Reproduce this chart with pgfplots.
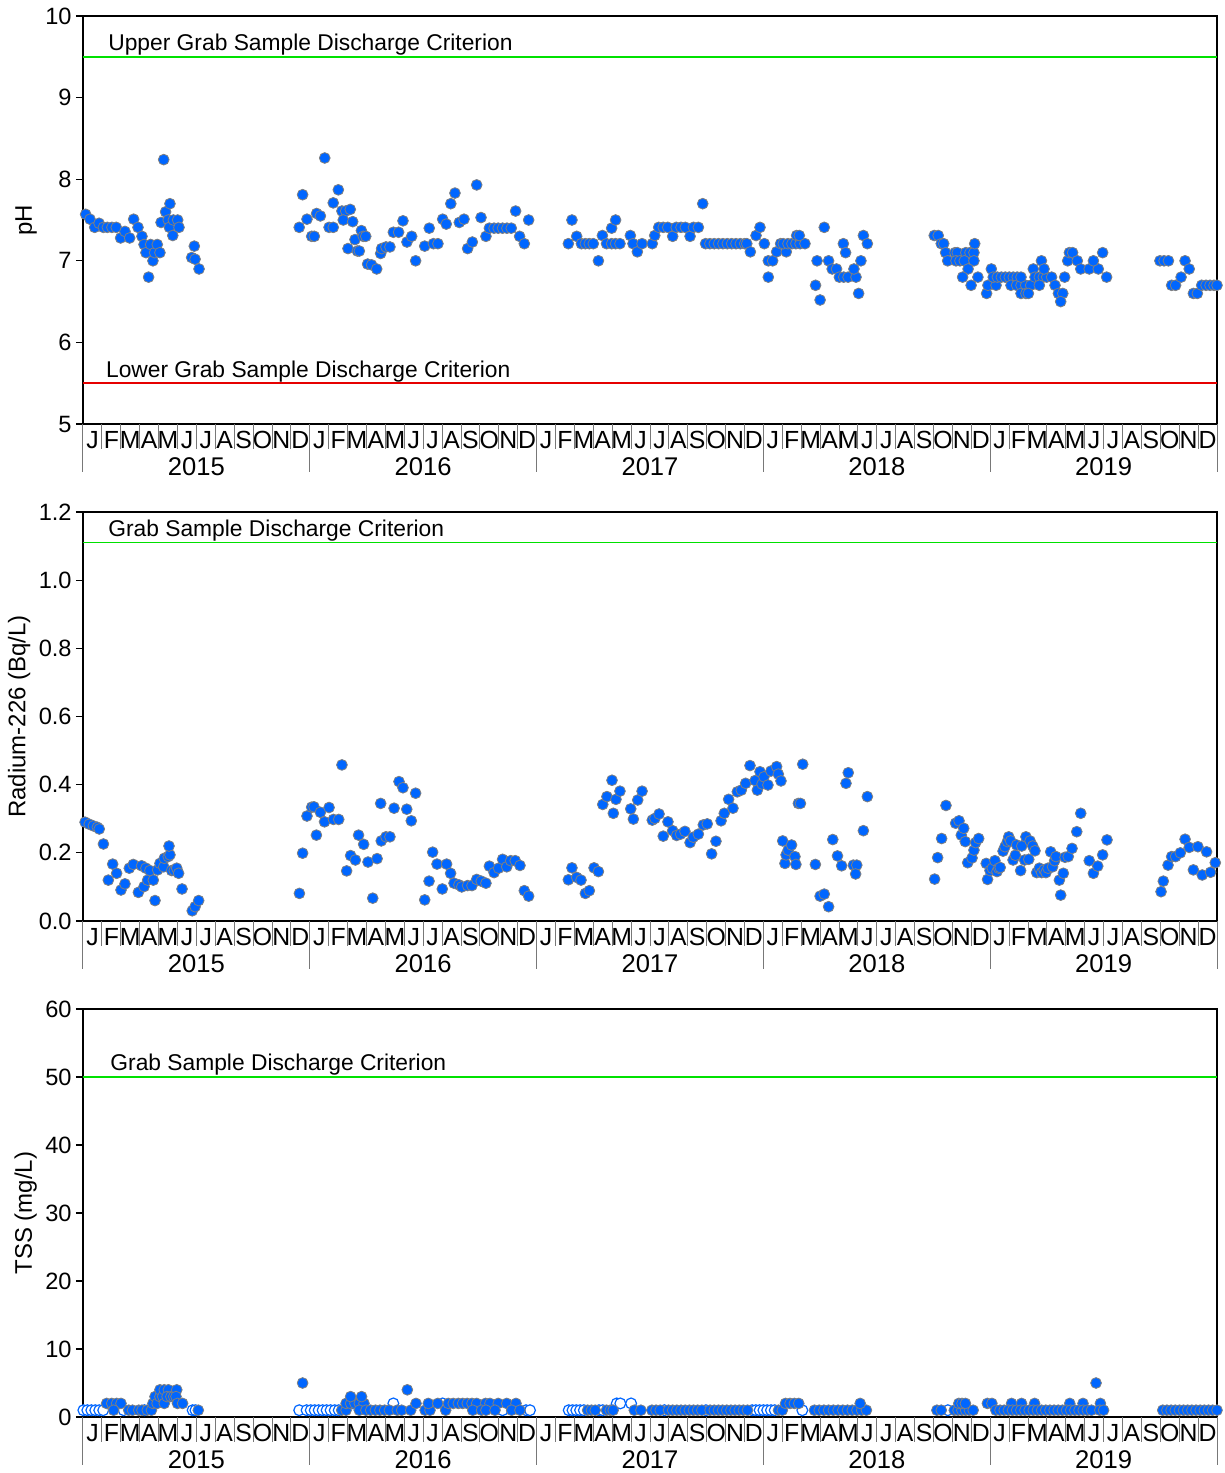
\documentclass[border=0pt]{standalone}
\usepackage{pgfplots}
\pgfplotsset{compat=1.18}
\usepackage{fontspec}
\setmainfont{Liberation Sans}

\definecolor{dotblue}{RGB}{0,102,255}
\definecolor{critgreen}{RGB}{0,225,0}
\definecolor{critred}{RGB}{230,0,0}
\definecolor{sepgray}{RGB}{120,120,120}

\newcommand\tickfont{\fontsize{11.8}{13}\selectfont}
\newcommand\monthfont{\fontsize{12.4}{14}\selectfont}
\newcommand\yearfont{\fontsize{12.8}{14}\selectfont}
\newcommand\labfont{\fontsize{11.4}{13}\selectfont}

% month separators, year separators and year names under a panel (#1 = ymin)
\newcommand\monthaxis[1]{%
  \pgfplotsinvokeforeach{0,...,60}{\draw[sepgray,line width=0.5pt] (axis cs:##1,#1) -- ++(0pt,-12.5pt);}%
  \pgfplotsinvokeforeach{0,12,24,36,48,60}{\draw[sepgray,line width=0.5pt] (axis cs:##1,#1) -- ++(0pt,-24pt);}%
  \node[anchor=base,font=\yearfont,yshift=-25.5pt] at (axis cs:6,#1) {2015};
  \node[anchor=base,font=\yearfont,yshift=-25.5pt] at (axis cs:18,#1) {2016};
  \node[anchor=base,font=\yearfont,yshift=-25.5pt] at (axis cs:30,#1) {2017};
  \node[anchor=base,font=\yearfont,yshift=-25.5pt] at (axis cs:42,#1) {2018};
  \node[anchor=base,font=\yearfont,yshift=-25.5pt] at (axis cs:54,#1) {2019};
}

\pgfplotsset{
  panel/.style={
    scale only axis, width=567pt, anchor=south west,
    xmin=0, xmax=60, clip=false,
    axis line style={black, line width=0.8pt},
    xtick={0.5,1.5,...,59.5},
    xticklabels={J,F,M,A,M,J,J,A,S,O,N,D,J,F,M,A,M,J,J,A,S,O,N,D,J,F,M,A,M,J,J,A,S,O,N,D,J,F,M,A,M,J,J,A,S,O,N,D,J,F,M,A,M,J,J,A,S,O,N,D},
    xtick style={draw=none},
    xticklabel style={anchor=base, yshift=-8.5pt, font=\monthfont},
    ytick pos=left, tick align=outside, major tick length=3.5pt,
    ytick style={black, line width=0.6pt},
    yticklabel style={font=\tickfont, inner sep=2pt},
    /pgf/number format/assume math mode=true,
    ylabel style={font=\fontsize{12}{14}\selectfont, inner sep=2pt},
  },
  dots/.style={only marks, mark=*, mark size=2.7pt,
    mark options={fill=dotblue, draw=gray, line width=0.4pt}},
  opendots/.style={only marks, mark=*, mark size=2.7pt,
    mark options={fill=white, draw=dotblue, line width=0.6pt}},
}

\begin{document}
\begin{tikzpicture}

% ---------------- pH ----------------
\begin{axis}[panel, at={(41.5pt,-212pt)}, height=204pt,
  ymin=5, ymax=10, ytick={5,6,7,8,9,10}, ylabel={pH}]
\addplot[critgreen, line width=0.8pt] coordinates {(0,9.5) (60,9.5)};
\addplot[critred, line width=0.8pt] coordinates {(0,5.5) (60,5.5)};
\node[anchor=base west, inner sep=0pt, yshift=3pt, font=\labfont] at (axis cs:1.32,9.5) {Upper Grab Sample Discharge Criterion};
\node[anchor=base west, inner sep=0pt, yshift=3pt, font=\labfont] at (axis cs:1.2,5.5) {Lower Grab Sample Discharge Criterion};
\addplot[dots] coordinates {
(0.14,7.57)(0.37,7.51)(0.62,7.41)(0.85,7.46)(1.08,7.41)(1.29,7.41)(1.53,7.41)(1.76,7.41)(1.99,7.28)(2.22,7.36)(2.47,7.28)(2.68,7.51)(2.91,7.41)(3.12,7.30)(3.23,7.20)(3.33,7.10)(3.47,6.80)(3.58,7.20)(3.70,7.00)(3.79,7.10)(3.93,7.20)(4.07,7.10)(4.27,8.24)(4.13,7.47)(4.37,7.60)(4.60,7.70)(4.51,7.50)(4.57,7.41)(4.75,7.31)(4.78,7.50)(5.01,7.50)(5.08,7.41)(5.75,7.04)(5.89,7.18)(5.93,7.02)(6.14,6.90)
(11.44,7.41)(11.62,7.81)(11.85,7.51)(12.10,7.30)(12.24,7.30)(12.36,7.58)(12.56,7.55)(12.79,8.26)(13.02,7.41)(13.24,7.41)(13.51,7.87)(13.24,7.71)(13.70,7.61)(13.90,7.61)(14.14,7.63)(13.77,7.50)(14.27,7.48)(14.02,7.15)(14.52,7.12)(14.62,7.12)(14.39,7.26)(14.73,7.37)(14.83,7.30)(14.96,7.30)(15.06,6.96)(15.27,6.95)(15.54,6.90)(15.75,7.09)(15.80,7.15)(16.03,7.17)(16.24,7.17)(16.42,7.35)(16.70,7.35)(16.93,7.49)(17.14,7.23)(17.39,7.30)(17.60,7.00)(18.08,7.18)(18.32,7.40)(18.54,7.21)(18.78,7.21)(19.03,7.51)(19.22,7.45)(19.46,7.70)(19.68,7.83)(19.91,7.47)(20.16,7.51)(20.35,7.15)(20.60,7.23)(20.83,7.93)(21.06,7.53)(21.32,7.30)(21.50,7.40)(21.75,7.40)(21.97,7.40)(22.20,7.40)(22.43,7.40)(22.66,7.40)(22.89,7.61)(23.10,7.30)(23.35,7.21)(23.58,7.50)
(25.68,7.21)(25.87,7.50)(26.12,7.30)(26.37,7.21)(26.58,7.21)(26.79,7.21)(27.00,7.21)(27.27,7.00)(27.48,7.31)(27.70,7.21)(27.97,7.21)(28.18,7.21)(28.41,7.21)(27.97,7.40)(28.18,7.50)(28.96,7.31)(29.10,7.21)(29.33,7.11)(29.58,7.21)(30.12,7.21)(30.25,7.31)(30.46,7.41)(30.70,7.41)(30.94,7.41)(31.20,7.30)(31.39,7.41)(31.64,7.41)(31.87,7.41)(32.12,7.30)(32.30,7.41)(32.56,7.41)(32.79,7.70)(32.94,7.21)(33.17,7.21)(33.40,7.21)(33.63,7.21)(33.86,7.21)(34.09,7.21)(34.32,7.21)(34.55,7.21)(34.78,7.21)(35.01,7.21)(35.12,7.21)(35.31,7.11)(35.61,7.31)(35.82,7.41)
(36.05,7.21)(36.26,7.00)(36.49,7.00)(36.26,6.80)(36.70,7.11)(36.91,7.21)(37.21,7.11)(37.05,7.21)(37.30,7.21)(37.51,7.21)(37.72,7.21)(37.94,7.21)(38.20,7.21)(37.76,7.31)(37.90,7.31)(38.84,7.00)(38.76,6.70)(39.00,6.52)(39.22,7.41)(39.45,7.00)(39.64,6.90)(39.87,6.90)(40.23,7.21)(40.35,7.10)(40.02,6.80)(40.25,6.80)(40.48,6.80)(40.90,6.80)(40.79,6.90)(41.16,7.00)(41.04,6.60)(41.29,7.31)(41.50,7.21)
(45.04,7.31)(45.25,7.31)(45.41,7.21)(45.54,7.21)(45.64,7.10)(45.75,7.00)(46.14,7.10)(46.26,7.10)(46.71,7.10)(46.93,7.10)(47.14,7.10)(46.19,7.00)(46.40,7.00)(46.63,7.00)(47.14,7.00)(47.18,7.21)(46.83,6.90)(46.54,6.80)(47.35,6.80)(46.99,6.70)(47.81,6.60)
(47.88,6.70)(48.31,6.70)(48.06,6.90)(48.16,6.80)(48.38,6.80)(48.59,6.80)(48.80,6.80)(49.01,6.80)(49.22,6.80)(49.43,6.80)(49.10,6.70)(49.40,6.70)(49.63,6.70)(49.88,6.70)(50.14,6.70)(49.63,6.60)(49.89,6.60)(50.02,6.60)(49.63,6.80)(50.28,6.90)(50.37,6.80)(50.60,6.80)(50.81,6.80)(50.99,6.80)(51.25,6.80)(50.60,6.70)(50.71,7.00)(50.85,6.90)(51.43,6.70)(51.61,6.60)(51.84,6.60)(51.73,6.50)(51.94,6.80)(52.10,7.00)(52.19,7.10)(52.36,7.10)(52.61,7.00)(52.79,6.90)(53.24,6.90)(53.72,6.90)(53.46,7.00)(53.95,7.10)(54.16,6.80)
(56.98,7.00)(57.20,7.00)(57.43,7.00)(57.60,6.70)(57.81,6.70)(58.10,6.80)(58.31,7.00)(58.53,6.90)(58.75,6.60)(58.96,6.60)(59.19,6.70)(59.42,6.70)(59.63,6.70)(59.84,6.70)(60.00,6.70)
};
\monthaxis{5}
\end{axis}

% ---------------- Radium-226 ----------------
\begin{axis}[panel, at={(41.5pt,-460.5pt)}, height=204.5pt,
  ymin=0, ymax=1.2, ytick={0,0.2,0.4,0.6,0.8,1.0,1.2},
  yticklabel style={/pgf/number format/.cd, fixed, fixed zerofill, precision=1},
  ylabel={Radium-226 (Bq/L)}]
\addplot[critgreen, line width=0.8pt] coordinates {(0,1.11) (60,1.11)};
\node[anchor=base west, inner sep=0pt, yshift=3pt, font=\labfont] at (axis cs:1.32,1.11) {Grab Sample Discharge Criterion};
\addplot[dots] coordinates {
(0.11,0.290)(0.33,0.284)(0.55,0.279)(0.76,0.275)(0.86,0.270)(1.08,0.226)(1.34,0.120)(1.57,0.167)(1.78,0.140)(2.01,0.091)(2.22,0.109)(2.45,0.155)(2.66,0.166)(2.93,0.084)(3.10,0.162)(3.23,0.101)(3.33,0.155)(3.42,0.120)(3.54,0.148)(3.72,0.120)(3.81,0.060)(3.95,0.150)(4.07,0.169)(4.27,0.159)(4.30,0.184)(4.51,0.189)(4.60,0.194)(4.55,0.220)(4.69,0.148)(4.83,0.148)(4.96,0.155)(5.06,0.140)(5.24,0.094)(5.78,0.030)(5.93,0.042)(6.12,0.060)
(11.45,0.081)(11.62,0.199)(11.85,0.308)(12.10,0.334)(12.22,0.335)(12.35,0.252)(12.56,0.319)(12.78,0.291)(13.02,0.333)(13.25,0.298)(13.53,0.298)(13.70,0.458)(13.95,0.147)(14.16,0.192)(14.41,0.179)(14.58,0.252)(14.85,0.225)(15.08,0.173)(15.33,0.067)(15.56,0.183)(15.75,0.345)(15.78,0.235)(16.03,0.247)(16.24,0.247)(16.46,0.331)(16.72,0.409)(16.93,0.391)(17.13,0.328)(17.37,0.294)(17.60,0.375)(18.08,0.062)(18.31,0.117)(18.50,0.202)(18.73,0.167)(19.01,0.094)(19.24,0.167)(19.45,0.140)(19.63,0.111)(19.89,0.106)(20.04,0.100)(20.35,0.104)(20.58,0.104)(20.83,0.122)(21.07,0.117)(21.32,0.111)(21.50,0.161)(21.75,0.142)(21.99,0.155)(22.20,0.181)(22.42,0.159)(22.63,0.177)(22.87,0.177)(23.12,0.163)(23.35,0.089)(23.58,0.073)
(25.68,0.121)(25.87,0.156)(26.12,0.128)(26.35,0.120)(26.58,0.081)(26.79,0.089)(27.04,0.156)(27.27,0.145)(27.50,0.342)(27.72,0.365)(27.99,0.413)(28.06,0.316)(28.20,0.357)(28.41,0.381)(28.98,0.329)(29.12,0.299)(29.35,0.355)(29.58,0.381)(30.12,0.296)(30.26,0.301)(30.48,0.314)(30.70,0.249)(30.95,0.291)(31.20,0.265)(31.41,0.251)(31.62,0.255)(31.85,0.263)(32.12,0.230)(32.29,0.246)(32.56,0.255)(32.82,0.282)(33.03,0.285)(33.26,0.197)(33.49,0.234)(33.76,0.294)(33.93,0.316)(34.16,0.357)(34.39,0.331)(34.62,0.379)(34.83,0.384)(35.06,0.404)(35.29,0.456)(35.56,0.412)(35.68,0.384)(35.82,0.438)(35.93,0.402)
(36.03,0.423)(36.24,0.399)(36.40,0.440)(36.70,0.453)(36.79,0.431)(36.93,0.411)(37.02,0.235)(37.14,0.169)(37.20,0.194)(37.31,0.208)(37.49,0.223)(37.67,0.189)(37.72,0.166)(37.85,0.345)(37.96,0.345)(38.08,0.460)(38.75,0.166)(39.00,0.073)(39.22,0.079)(39.45,0.042)(39.67,0.239)(39.92,0.191)(40.14,0.162)(40.37,0.404)(40.49,0.435)(40.76,0.164)(40.94,0.164)(40.88,0.138)(41.29,0.265)(41.50,0.365)
(45.06,0.123)(45.22,0.186)(45.43,0.242)(45.66,0.339)(46.17,0.287)(46.35,0.294)(46.47,0.252)(46.60,0.272)(46.68,0.233)(46.81,0.171)(47.04,0.185)(47.14,0.208)(47.23,0.230)(47.39,0.242)
(47.79,0.169)(47.86,0.122)(47.99,0.148)(48.11,0.155)(48.25,0.177)(48.36,0.145)(48.45,0.155)(48.53,0.157)(48.68,0.205)(48.78,0.218)(48.91,0.233)(48.98,0.247)(49.08,0.235)(49.21,0.179)(49.33,0.193)(49.40,0.223)(49.61,0.148)(49.67,0.220)(49.82,0.179)(49.89,0.247)(50.04,0.181)(50.11,0.235)(50.25,0.220)(50.37,0.206)(50.46,0.142)(50.60,0.155)(50.72,0.142)(50.85,0.150)(50.95,0.142)(51.06,0.155)(51.20,0.203)(51.30,0.159)(51.41,0.177)(51.48,0.189)(51.66,0.120)(51.73,0.076)(51.87,0.140)(51.96,0.187)(52.13,0.189)(52.33,0.213)(52.58,0.262)(52.79,0.316)(53.24,0.177)(53.46,0.140)(53.69,0.161)(53.95,0.194)(54.18,0.238)
(57.04,0.086)(57.16,0.117)(57.41,0.164)(57.60,0.189)(57.81,0.189)(58.06,0.200)(58.31,0.240)(58.53,0.216)(58.75,0.150)(58.99,0.218)(59.22,0.135)(59.45,0.203)(59.66,0.143)(59.91,0.171)
};
\monthaxis{0}
\end{axis}

% ---------------- TSS ----------------
\begin{axis}[panel, at={(41.5pt,-708.5pt)}, height=204pt,
  ymin=0, ymax=60, ytick={0,10,20,30,40,50,60}, ylabel={TSS (mg/L)}]
\addplot[critgreen, line width=0.8pt] coordinates {(0,50) (60,50)};
\node[anchor=base west, inner sep=0pt, yshift=3.5pt, font=\labfont] at (axis cs:1.43,50) {Grab Sample Discharge Criterion};
% below detection limit (open symbols)
\addplot[opendots] coordinates {
(0.02,1)(0.23,1)(0.44,1)(0.65,1)(0.86,1)(1.07,1)(2.15,1)(3.25,1)(5.80,1)(5.95,1)
(11.44,1)(11.83,1)(12.05,1)(12.26,1)(12.47,1)(12.68,1)(12.89,1)(13.10,1)(13.32,1)(13.53,1)(14.30,2)(16.42,2)(19.03,2)(22.20,1)(23.44,1)(23.65,1)
(25.70,1)(25.90,1)(26.10,1)(26.30,1)(26.50,1)(27.30,1)(27.50,1)(28.24,2)(28.43,2)(29.00,2)(30.76,1)(32.96,1)(35.40,1)(35.60,1)(35.80,1)(36.00,1)(36.20,1)(36.40,1)(36.60,1)
(38.06,1)(45.76,1)
};
\addplot[dots] coordinates {
(1.25,2)(1.52,2)(1.78,2)(2.01,2)(1.62,1)(2.42,1)(2.62,1)(2.95,1)(3.12,1)(3.40,1)(3.62,1)(3.70,2)(3.81,3)(3.92,2)(4.07,3)(4.07,4)(4.22,3)(4.30,4)(4.30,2)(4.52,4)(4.45,3)(4.65,3)(4.80,3)(4.96,4)(4.92,3)(5.00,2)(5.27,2)(6.10,1)
(11.62,5)(13.69,1)(13.92,1)(13.92,2)(14.16,2)(14.39,2)(14.62,2)(14.87,2)(14.16,3)(14.74,3)(14.62,1)(14.97,1)(15.22,1)(15.47,1)(15.71,1)(15.96,1)(16.21,1)(16.63,1)(16.86,1)(17.16,4)(17.34,1)(17.62,2)(18.10,1)(18.36,1)(18.27,2)(18.77,2)(19.19,1)(19.33,2)(19.59,2)(19.86,2)(20.09,2)(20.33,2)(20.58,2)(20.83,2)(21.30,2)(21.53,2)(21.97,2)(22.42,2)(22.91,2)(20.62,1)(21.09,1)(21.32,1)(21.80,1)(22.68,1)(23.12,1)
(26.70,1)(26.90,1)(27.10,1)(27.70,1)(27.90,1)(28.05,1)(29.17,1)(29.52,1)(30.10,1)(30.32,1)(30.54,1)(30.98,1)(31.20,1)(31.42,1)(31.64,1)(31.86,1)(32.08,1)(32.30,1)(32.52,1)(32.74,1)(33.18,1)(33.40,1)(33.62,1)(33.84,1)(34.06,1)(34.28,1)(34.50,1)(34.72,1)(34.94,1)(35.16,1)(36.80,1)(37.00,1)
(37.17,2)(37.41,2)(37.64,2)(37.87,2)(38.70,1)(38.95,1)(39.20,1)(39.45,1)(39.70,1)(39.95,1)(40.20,1)(40.45,1)(40.70,1)(40.95,1)(41.20,1)(41.45,1)(41.12,2)
(45.18,1)(45.41,1)(46.10,1)(46.30,1)(46.50,1)(46.70,1)(46.90,1)(47.10,1)(46.34,2)(46.51,2)(46.69,2)
(47.85,2)(48.09,2)(49.13,2)(49.66,2)(50.35,2)(52.21,2)(52.91,2)(53.83,2)(53.60,5)
(48.30,1)(48.52,1)(48.74,1)(48.96,1)(49.18,1)(49.40,1)(49.62,1)(49.84,1)(50.06,1)(50.28,1)(50.50,1)(50.72,1)(50.94,1)(51.16,1)(51.38,1)(51.60,1)(51.82,1)(52.04,1)(52.26,1)(52.48,1)(52.70,1)(52.92,1)(53.14,1)(53.36,1)(53.80,1)(54.00,1)
(57.13,1)(57.35,1)(57.57,1)(57.79,1)(58.01,1)(58.23,1)(58.45,1)(58.67,1)(58.89,1)(59.11,1)(59.33,1)(59.55,1)(59.77,1)(60.00,1)
};
\monthaxis{0}
\end{axis}

\pgfresetboundingbox
\path[use as bounding box] (0pt,0pt) rectangle (612.5pt,-736.5pt);
\end{tikzpicture}
\end{document}
